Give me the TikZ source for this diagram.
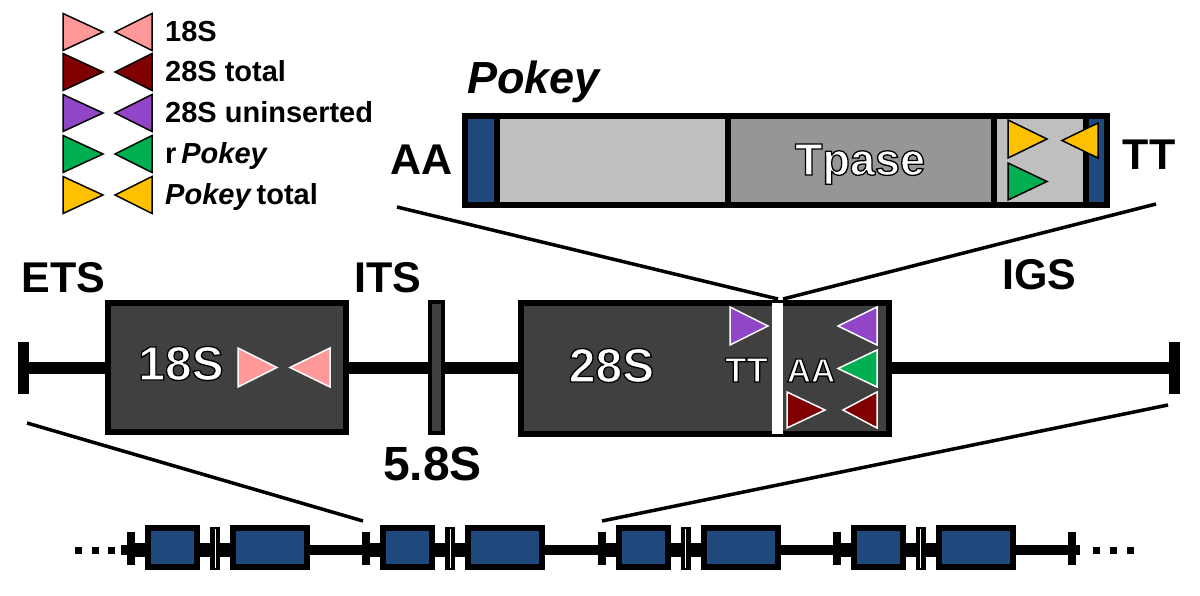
\documentclass[tikz,border=0pt]{standalone}
\usepackage{fontspec}
\setmainfont{Liberation Sans}
\definecolor{pinkT}{RGB}{255,153,153}
\definecolor{redT}{RGB}{128,0,0}
\definecolor{purT}{RGB}{145,70,200}
\definecolor{grnT}{RGB}{0,176,80}
\definecolor{ylwT}{RGB}{255,192,0}
\definecolor{blueB}{RGB}{31,73,125}
\definecolor{darkB}{RGB}{64,64,64}
\definecolor{lgray}{RGB}{191,191,191}
\definecolor{mgray}{RGB}{150,150,150}
\newcommand\rtri[6]{\filldraw[fill=#5,draw=#6,line width=1.5pt,line join=miter] (#1,#3) -- (#2,{(#3+#4)/2}) -- (#1,#4) -- cycle;}
\newcommand\ltri[6]{\filldraw[fill=#5,draw=#6,line width=1.5pt,line join=miter] (#2,#3) -- (#1,{(#3+#4)/2}) -- (#2,#4) -- cycle;}
\newcommand\olt[1]{\special{pdf:literal direct 0 0 0 RG 2 Tr 1.3 w}#1\special{pdf:literal direct 0 Tr}}
\begin{document}
\begin{tikzpicture}[x=1pt,y=-1pt,
  leg/.style={font=\fontsize{29}{30}\selectfont\bfseries, anchor=base west, inner sep=0pt},
  lbl/.style={font=\fontsize{43}{45}\selectfont\bfseries, anchor=base, inner sep=0pt},
  otx/.style={text=white, anchor=base, inner sep=0pt},
  box/.style={draw=black, line width=6pt, fill=darkB, inner sep=0pt},
  seg/.style={draw=black, line width=6pt},
  zoomline/.style={draw=black, line width=3.5pt},
  ubox/.style={draw=black, line width=6pt, fill=blueB}]
\useasboundingbox (0,0) rectangle (1200,596);

% ---------- legend ----------
\rtri{63}{103}{13.5}{50.5}{pinkT}{black}\ltri{115}{152}{13.5}{50.5}{pinkT}{black}
\rtri{63}{103}{53.5}{90.5}{redT}{black}\ltri{115}{152}{53.5}{90.5}{redT}{black}
\rtri{63}{103}{94.5}{131.5}{purT}{black}\ltri{115}{152}{94.5}{131.5}{purT}{black}
\rtri{63}{103}{135.5}{172.5}{grnT}{black}\ltri{115}{152}{135.5}{172.5}{grnT}{black}
\rtri{63}{103}{176.5}{213.5}{ylwT}{black}\ltri{115}{152}{176.5}{213.5}{ylwT}{black}
\node[leg] (l1) at (165,42) {18S};
\node[leg] (l2) at (165,82) {28S total};
\node[leg] (l3) at (165,123) {28S uninserted};
\node[leg] (l4) at (165,164) {r\,\textit{Pokey}};
\node[leg] (l5) at (165,205) {\textit{Pokey}\,total};

% ---------- Pokey element ----------
\node[font=\fontsize{45}{47}\selectfont\bfseries\itshape, anchor=base west, inner sep=0pt] (ptitle) at (467,94) {Pokey};
\filldraw[seg, fill=blueB] (465,116) rectangle (497,205);
\filldraw[seg, fill=lgray] (497,116) rectangle (728,205);
\filldraw[seg, fill=mgray] (728,116) rectangle (994,205);
\filldraw[seg, fill=lgray] (994,116) rectangle (1086,205);
\filldraw[seg, fill=blueB] (1086,116) rectangle (1107,205);
\node[otx, font=\fontsize{45}{47}\selectfont\bfseries] (tpase) at (860,175) {\olt{Tpase}};
\rtri{1008}{1047}{120}{158}{ylwT}{black}
\ltri{1062}{1098}{123}{158}{ylwT}{black}
\rtri{1008}{1047}{163}{200}{grnT}{black}
\node[lbl] (pAA) at (422,175) {AA};
\node[lbl] (pTT) at (1149,170) {TT};

% ---------- rDNA unit ----------
\coordinate (lend) at (20,368);
\coordinate (rend) at (1180,368);
\draw[line width=12pt] (lend) -- (rend);
\draw[line width=11pt] (23.5,342) -- (23.5,394);
\draw[line width=11pt] (1174.5,342) -- (1174.5,394);
\node[box, minimum width=238pt, minimum height=129pt] (s18) at (227,367.5) {};
\node[box, line width=4pt, minimum width=13pt, minimum height=131pt] (s58) at (436.5,367.5) {};
\node[box, minimum width=368pt, minimum height=131pt] (s28) at (705,368.5) {};
\fill[white] (772,303) rectangle (783,434);
\node[otx, font=\fontsize{48}{50}\selectfont\bfseries] (t18) at (181,380) {\olt{18S}};
\node[otx, font=\fontsize{48}{50}\selectfont\bfseries] (t28) at (611.5,382) {\olt{28S}};
\node[otx, font=\fontsize{35}{37}\selectfont\bfseries] (tTT) at (746.5,382) {\olt{TT}};
\node[otx, font=\fontsize{33.5}{36}\selectfont\bfseries] (tAA) at (811,382) {\olt{AA}};
\rtri{238}{277}{348}{387}{pinkT}{white}
\ltri{290}{330}{348}{387}{pinkT}{white}
\rtri{730}{768}{307}{345}{purT}{white}
\ltri{838}{877}{307}{345}{purT}{white}
\ltri{838}{877}{350}{387}{grnT}{white}
\rtri{787}{825}{392}{428}{redT}{white}
\ltri{843}{877}{392}{428}{redT}{white}
\node[lbl] (ets) at (63.5,292) {ETS};
\node[lbl] (its) at (387.5,292) {ITS};
\node[lbl, font=\fontsize{48}{50}\selectfont\bfseries] (s58t) at (432.5,480) {5.8S};
\node[lbl] (igs) at (1039.5,290) {IGS};

% expansion lines Pokey -> 28S
\coordinate (ins1) at (778,299);
\coordinate (ins2) at (783,299);
\coordinate (pa) at (397,207);
\coordinate (pb) at (1156,204);
\draw[zoomline] (pa) -- (ins1);
\draw[zoomline] (pb) -- (ins2);

% ---------- tandem array ----------
\draw[line width=10pt] (121,550) -- (1080,550);
\foreach \t in {131,366.25,601.5,836.75}{
  \draw[line width=14pt] (\t,550) -- (\t+179,550);
  \filldraw[ubox] (\t+17,528) rectangle (\t+66,567);
  \fill[black] (\t+79,527) rectangle (\t+89,570);
  \draw[white, line width=1pt] (\t+84,529) -- (\t+84,568);
  \filldraw[ubox] (\t+102,528) rectangle (\t+176,567);
}
\foreach \t in {131,366.25,601.5,836.75,1072}{
  \fill[black] (\t-4,532) rectangle (\t+4,565);
}
\foreach \x in {75,91.5,108,1093,1110,1126.5}{
  \fill[black] (\x,546.5) rectangle (\x+7,553.5);
}
\coordinate (u2) at (363,521);
\coordinate (u3) at (602,521);
\coordinate (la) at (27,423);
\coordinate (ra) at (1168,405);
\draw[zoomline] (la) -- (u2);
\draw[zoomline] (ra) -- (u3);
\end{tikzpicture}
\end{document}
